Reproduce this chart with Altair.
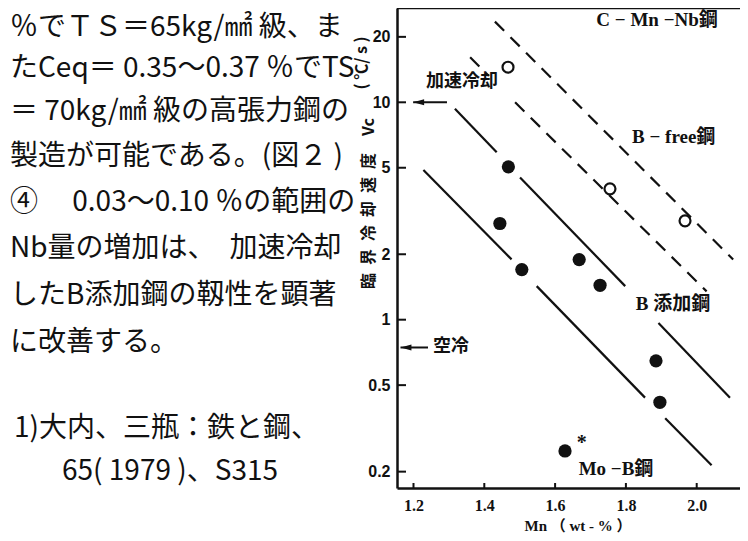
import altair as alt
import pandas as pd

# ---------------- values ----------------
# B-free steel (C-Mn-Nb), open circles
free_mn = [1.467, 1.755, 1.967]
free_vc = [14.5, 4.0, 2.85]
# B-added steel, filled circles
badd_mn = [1.468, 1.444, 1.506, 1.668, 1.727, 1.885, 1.896]
badd_vc = [5.05, 2.77, 1.70, 1.89, 1.44, 0.647, 0.417]
# Mo-B steel (*)
mob_mn = [1.628]
mob_vc = [0.249]

# guide-line segments (Mn, Vc at both ends)
seg_name = ["B1a", "B1b", "B1c", "B2a", "B2b", "B2c", "F1a", "F1b", "F2"]
seg_kind = ["solid"] * 6 + ["dashed"] * 3
seg_mn1 = [1.228, 1.548, 1.911, 1.317, 1.501, 1.892, 1.360, 1.487, 1.430]
seg_vc1 = [4.88, 1.427, 0.352, 9.34, 4.51, 0.965, 16.1, 10.0, 23.5]
seg_mn2 = [1.477, 1.854, 2.042, 1.435, 1.798, 2.094, 1.413, 2.028, 2.103]
seg_vc2 = [1.894, 0.438, 0.214, 5.89, 1.427, 0.438, 13.2, 1.35, 1.89]

# axis ticks
y_ticks = [0.2, 0.5, 1, 2, 5, 10, 20]
x_ticks = [1.2, 1.4, 1.6, 1.8, 2.0]

# cooling-rate arrows
arrow_vc = [10, 0.745]
arrow_tip_mn = [1.199, 1.1633]
arrow_tail_mn = [1.2946, 1.241]

# annotations inside the plot
ann_serif_text = ["C − Mn −Nb鋼", "B  −   free鋼", "B 添加鋼", "Mo −B鋼"]
ann_serif_mn = [1.888, 1.935, 1.933, 1.772]
ann_serif_vc = [23.9, 6.95, 1.178, 0.2058]
ann_jp_text = ["加速冷却", "空冷"]
ann_jp_mn = [1.337, 1.306]
ann_jp_vc = [12.35, 0.745]
star_mn = [1.675]
star_vc = [0.272]

# body text to the left of the figure
para_lines = [
    "％でＴＳ＝65kg/㎟ 級、ま",
    "たCeq＝ 0.35〜0.37 ％でTS",
    "＝ 70kg/㎟ 級の高張力鋼の",
    "製造が可能である。(図２ )",
    "④　 0.03〜0.10 ％の範囲の",
    "Nb量の増加は、　加速冷却",
    "したB添加鋼の靱性を顕著",
    "に改善する。",
    "1)大内、三瓶：鉄と鋼、",
    "65( 1979 )、S315",
]

# ---------------- layout / style ----------------
W, H = 343, 480
PAD_L = 389
INK = "#111111"
XS = alt.Scale(domain=[1.1534, 2.1223], nice=False, zero=False)
YS = alt.Scale(type="log", domain=[0.1682, 27.15], nice=False)
X_AX = alt.Axis(values=x_ticks, format=".1f", title=None, ticks=False, grid=False,
                domainColor=INK, domainWidth=2.5, labelFont="Liberation Serif",
                labelFontWeight="bold", labelFontSize=16, labelColor=INK, labelPadding=9)
Y_AX = alt.Axis(values=y_ticks, format="~g", title=None, ticks=False, grid=False,
                domainColor=INK, domainWidth=2.5, labelFont="Liberation Sans",
                labelFontWeight="bold", labelFontSize=16, labelColor=INK, labelPadding=7)


def X(f):
    return alt.X(f, type="quantitative", scale=XS, axis=X_AX)


def Y(f):
    return alt.Y(f, type="quantitative", scale=YS, axis=Y_AX)


segs = pd.DataFrame(dict(name=seg_name, kind=seg_kind, mn1=seg_mn1, vc1=seg_vc1,
                         mn2=seg_mn2, vc2=seg_vc2))
solid = alt.Chart(segs[segs.kind == "solid"]).mark_rule(color=INK, strokeWidth=2.2).encode(
    x=X("mn1"), y=Y("vc1"), x2="mn2", y2="vc2")
dashed = alt.Chart(segs[segs.kind == "dashed"]).mark_rule(
    color=INK, strokeWidth=2.2, strokeDash=[13, 9]).encode(
    x=X("mn1"), y=Y("vc1"), x2="mn2", y2="vc2")

free = alt.Chart(pd.DataFrame(dict(mn=free_mn, vc=free_vc))).mark_point(
    shape="circle", filled=False, color=INK, strokeWidth=2.2, size=120, opacity=1).encode(
    x=X("mn"), y=Y("vc"))
badd = alt.Chart(pd.DataFrame(dict(mn=badd_mn + mob_mn, vc=badd_vc + mob_vc))).mark_circle(
    color=INK, size=175, opacity=1).encode(x=X("mn"), y=Y("vc"))

ytk = alt.Chart(pd.DataFrame(dict(v=y_ticks))).mark_rule(color=INK, strokeWidth=2).encode(
    x=alt.value(0), x2=alt.value(9), y=Y("v"))
xtk = alt.Chart(pd.DataFrame(dict(v=x_ticks))).mark_rule(color=INK, strokeWidth=2).encode(
    y=alt.value(H), y2=alt.value(H - 5), x=X("v"))

one = pd.DataFrame(dict(a=[0]))
top = alt.Chart(one).mark_rule(color=INK, strokeWidth=2.5).encode(
    x=alt.value(0), x2=alt.value(W), y=alt.value(0))

arrows = pd.DataFrame(dict(tip=arrow_tip_mn, tail=arrow_tail_mn, vc=arrow_vc))
shaft = alt.Chart(arrows).mark_rule(color=INK, strokeWidth=2).encode(
    x=X("tip"), x2="tail", y=Y("vc"))
head = alt.Chart(arrows).mark_point(
    shape="M 0 0 L 2 -0.55 L 2 0.55 Z", filled=True, color=INK, size=120, opacity=1).encode(
    x=X("tip"), y=Y("vc"))

ann_s = alt.Chart(pd.DataFrame(dict(t=ann_serif_text, mn=ann_serif_mn, vc=ann_serif_vc))).mark_text(
    font="Liberation Serif, Noto Sans CJK JP", fontWeight="bold", fontSize=19, color=INK).encode(
    x=X("mn"), y=Y("vc"), text="t:N")
ann_j = alt.Chart(pd.DataFrame(dict(t=ann_jp_text, mn=ann_jp_mn, vc=ann_jp_vc))).mark_text(
    font="Noto Sans CJK JP", fontWeight="bold", fontSize=18, color=INK).encode(
    x=X("mn"), y=Y("vc"), text="t:N")
star = alt.Chart(pd.DataFrame(dict(mn=star_mn, vc=star_vc))).mark_text(
    text="*", font="Liberation Serif", fontWeight="bold", fontSize=20, color=INK).encode(
    x=X("mn"), y=Y("vc"))

# axis titles as text marks (pixel offsets from the plot origin)
ytitle_parts = ["臨\u2002界\u2002冷\u2002却\u2002速\u2002度", "Vc", "( ℃/ s )"]
ytitle_pos = [(-28, 213), (-28, 119), (-35, 55)]
ytitles = [alt.Chart(one).mark_text(text=t, angle=270, font="Noto Sans CJK JP",
                                    fontWeight="bold", fontSize=16, color=INK,
                                    align="center", baseline="middle").encode(
    x=alt.value(px), y=alt.value(py)) for t, (px, py) in zip(ytitle_parts, ytitle_pos)]
xtitle = alt.Chart(one).mark_text(text="Mn （ wt - % ）", font="Liberation Serif, Noto Sans CJK JP",
                                  fontWeight="bold", fontSize=15, color=INK,
                                  align="center", baseline="middle").encode(
    x=alt.value(181), y=alt.value(518))

para_y = [28, 69, 112, 157, 203, 249, 296, 343, 429, 472]
para_x = [10, 10, 10, 10, 10, 10, 10, 10, 14, 62]
para = [alt.Chart(one).mark_text(text=t, font="Noto Sans CJK JP", fontSize=28, color=INK,
                                 align="left", baseline="middle").encode(
    x=alt.value(px - 8 - PAD_L), y=alt.value(py - 8)) for t, px, py in zip(para_lines, para_x, para_y)]

chart = alt.layer(solid, dashed, free, badd, ytk, xtk, top, shaft, head, ann_s, ann_j, star,
                  xtitle, *ytitles, *para).properties(
    width=W, height=H,
    padding={"left": PAD_L, "top": 0, "right": 0, "bottom": 45},
    autosize=alt.AutoSizeParams(type="none"),
    background="white",
).configure_view(stroke=None)

chart.save("out.html", embed_options={"renderer": "svg", "actions": False})
